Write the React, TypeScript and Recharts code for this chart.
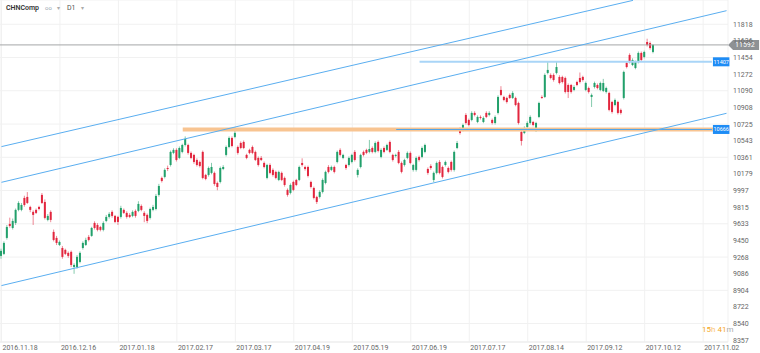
import { Bar, CartesianGrid, ComposedChart, ReferenceDot, ReferenceLine, XAxis, YAxis } from 'recharts';

// x-axis labels, one every 20 sessions
const dateLabels = [
  '2016.11.18', '2016.12.16', '2017.01.18', '2017.02.17', '2017.03.17', '2017.04.19', '2017.05.19',
  '2017.06.19', '2017.07.17', '2017.08.14', '2017.09.12', '2017.10.12', '2017.11.02'
];

const yTicks = [
  8357, 8540, 8722, 8904, 9086, 9268, 9450, 9633, 9815, 9997, 10179, 10361, 10543, 10725, 10908,
  11090, 11272, 11454, 11636, 11818
];

// daily candles: [open, high, low, close]
const candles: [number, number, number, number][] = [
  [9281, 9360, 9250, 9336], [9303, 9440, 9290, 9423], [9478, 9620, 9460, 9598], [9631, 9700, 9590, 9609],
  [9587, 9690, 9570, 9664], [9642, 9800, 9620, 9785], [9785, 9880, 9770, 9861], [9785, 9860, 9770, 9839],
  [9916, 9940, 9820, 9839], [9927, 9980, 9850, 9861], [9817, 9830, 9760, 9785], [9763, 9780, 9620, 9730],
  [9785, 9800, 9740, 9752], [9817, 9830, 9780, 9795], [9949, 9970, 9850, 9861], [9872, 9900, 9680, 9697],
  [9675, 9740, 9660, 9719], [9763, 9780, 9650, 9675], [9544, 9570, 9440, 9456], [9478, 9500, 9400, 9423],
  [9401, 9450, 9390, 9434], [9368, 9390, 9250, 9270], [9347, 9360, 9290, 9303], [9314, 9330, 9260, 9281],
  [9325, 9340, 9160, 9182], [9160, 9200, 9085, 9182], [9160, 9290, 9140, 9270], [9215, 9330, 9200, 9314],
  [9368, 9440, 9350, 9423], [9401, 9480, 9390, 9456], [9489, 9510, 9440, 9456], [9500, 9600, 9490, 9587],
  [9642, 9660, 9570, 9587], [9620, 9640, 9550, 9566], [9598, 9610, 9550, 9566], [9566, 9660, 9550, 9642],
  [9664, 9730, 9650, 9708], [9708, 9760, 9690, 9741], [9763, 9780, 9700, 9719], [9719, 9730, 9640, 9653],
  [9708, 9720, 9620, 9653], [9708, 9830, 9690, 9806], [9785, 9800, 9740, 9752], [9752, 9770, 9690, 9708],
  [9730, 9750, 9695, 9708], [9719, 9780, 9705, 9763], [9774, 9790, 9700, 9719], [9774, 9880, 9760, 9850],
  [9828, 9845, 9770, 9785], [9752, 9770, 9650, 9719], [9730, 9745, 9640, 9664], [9697, 9810, 9680, 9795],
  [9785, 9840, 9770, 9817], [9795, 9960, 9780, 9938], [9949, 10070, 9930, 10047], [10135, 10150, 10085, 10102],
  [10146, 10240, 10130, 10223], [10244, 10270, 10210, 10233],
  [10277, 10435, 10260, 10420], [10409, 10460, 10395, 10442], [10442, 10460, 10315, 10332], [10354, 10480, 10340, 10463],
  [10420, 10510, 10405, 10496], [10496, 10590, 10480, 10562], [10496, 10510, 10390, 10409], [10409, 10425, 10340, 10354],
  [10387, 10400, 10290, 10310], [10332, 10350, 10260, 10277], [10310, 10325, 10250, 10266], [10420, 10435, 10120, 10135],
  [10168, 10180, 10110, 10124], [10168, 10260, 10150, 10244], [10190, 10300, 10175, 10255], [10190, 10205, 10050, 10069],
  [10080, 10095, 10000, 10036], [10091, 10260, 10075, 10244], [10233, 10275, 10220, 10255], [10387, 10490, 10370, 10474],
  [10474, 10590, 10460, 10573], [10573, 10590, 10470, 10485], [10584, 10690, 10570, 10628], [10474, 10490, 10390, 10409],
  [10518, 10535, 10450, 10463], [10529, 10545, 10450, 10463], [10387, 10400, 10340, 10354], [10442, 10455, 10395, 10409],
  [10474, 10490, 10395, 10409], [10420, 10435, 10320, 10332], [10354, 10370, 10260, 10277], [10354, 10375, 10320, 10332],
  [10299, 10315, 10240, 10255], [10135, 10290, 10120, 10277], [10277, 10295, 10175, 10190], [10223, 10240, 10150, 10168],
  [10201, 10215, 10120, 10135], [10113, 10215, 10100, 10201], [10190, 10205, 10100, 10113], [10135, 10150, 10040, 10058],
  [10004, 10020, 9930, 9949], [9971, 10075, 9955, 10058], [10091, 10105, 9990, 10004], [10113, 10125, 10045, 10058],
  [10113, 10270, 10100, 10255], [10299, 10350, 10260, 10277], [10255, 10270, 10215, 10233], [10255, 10270, 10140, 10157],
  [10091, 10105, 10020, 10036], [10025, 10040, 9900, 9916], [9927, 9940, 9850, 9872], [9927, 10000, 9910, 9982],
  [9982, 10130, 9965, 10113], [10080, 10215, 10065, 10201], [10255, 10275, 10185, 10201], [10223, 10270, 10210, 10255],
  [10255, 10270, 10185, 10201], [10310, 10435, 10295, 10420],
  [10442, 10460, 10370, 10387], [10354, 10400, 10340, 10387], [10277, 10290, 10225, 10244], [10277, 10370, 10260, 10354],
  [10310, 10400, 10295, 10387], [10420, 10440, 10315, 10332], [10168, 10240, 10140, 10223], [10255, 10400, 10240, 10387],
  [10420, 10435, 10370, 10387], [10442, 10455, 10395, 10409], [10420, 10551, 10405, 10452], [10463, 10480, 10405, 10420],
  [10420, 10535, 10405, 10518], [10529, 10545, 10415, 10431], [10365, 10460, 10350, 10442], [10463, 10480, 10405, 10420],
  [10442, 10510, 10430, 10496], [10529, 10545, 10405, 10420], [10387, 10400, 10315, 10332], [10376, 10400, 10360, 10387],
  [10420, 10440, 10285, 10299], [10299, 10315, 10185, 10201], [10277, 10345, 10260, 10332], [10354, 10425, 10340, 10409],
  [10409, 10425, 10285, 10299], [10223, 10290, 10205, 10277], [10223, 10370, 10205, 10354], [10365, 10380, 10315, 10332],
  [10365, 10480, 10350, 10463], [10420, 10510, 10405, 10496], [10233, 10250, 10170, 10190], [10266, 10285, 10225, 10244],
  [10113, 10205, 10090, 10190], [10190, 10315, 10175, 10299], [10310, 10330, 10175, 10190], [10255, 10270, 10130, 10146],
  [10277, 10325, 10260, 10310], [10244, 10260, 10185, 10201], [10310, 10325, 10205, 10223], [10223, 10435, 10205, 10420],
  [10463, 10540, 10450, 10518], [10671, 10690, 10610, 10628], [10661, 10730, 10645, 10715], [10825, 10845, 10720, 10737],
  [10770, 10785, 10700, 10715], [10770, 10865, 10755, 10847], [10847, 10865, 10810, 10825], [10748, 10820, 10735, 10803],
  [10803, 10820, 10775, 10792], [10748, 10810, 10735, 10792], [10847, 10865, 10790, 10803], [10825, 10865, 10810, 10847],
  [10770, 10785, 10720, 10737], [10737, 10820, 10720, 10803], [10847, 11040, 10830, 11022], [11099, 11140, 11030, 11044],
  [11022, 11035, 10975, 10989], [11011, 11025, 10950, 10967],
  [11044, 11060, 11000, 11011], [11011, 11085, 11000, 11066], [11011, 11025, 10920, 10934], [10956, 10970, 10720, 10737],
  [10639, 10650, 10490, 10540], [10628, 10700, 10615, 10682], [10693, 10755, 10680, 10737], [10737, 10820, 10720, 10803],
  [10748, 10760, 10700, 10715], [10671, 10750, 10640, 10737], [10803, 10970, 10790, 10956], [11022, 11040, 11000, 11011],
  [11022, 11280, 11010, 11263], [11285, 11405, 11270, 11318], [11263, 11280, 11215, 11230], [11263, 11280, 11190, 11208],
  [11285, 11405, 11270, 11350], [11241, 11260, 11160, 11175], [11241, 11255, 11170, 11186], [11230, 11245, 11060, 11077],
  [11153, 11170, 11010, 11077], [11153, 11165, 11060, 11077], [11099, 11150, 11085, 11131], [11186, 11200, 11140, 11153],
  [11230, 11290, 11170, 11186], [11241, 11255, 11190, 11208], [11099, 11190, 11085, 11175], [11120, 11135, 11060, 11077],
  [11022, 11060, 10912, 11044], [11131, 11190, 11115, 11175], [11153, 11170, 11105, 11120], [11099, 11190, 11085, 11175],
  [11088, 11220, 11075, 11175], [11077, 11135, 11060, 11120], [11066, 11080, 10865, 10880], [10967, 10980, 10840, 10858],
  [10934, 11005, 10920, 10989], [10967, 10980, 10830, 10847], [10880, 10895, 10830, 10847], [11011, 11310, 10995, 11296],
  [11394, 11410, 11335, 11350], [11482, 11500, 11390, 11405], [11372, 11445, 11360, 11427], [11339, 11420, 11325, 11405],
  [11405, 11520, 11390, 11504], [11504, 11520, 11410, 11427], [11460, 11530, 11445, 11515], [11624, 11660, 11575, 11591],
  [11613, 11630, 11540, 11558], [11515, 11600, 11500, 11592]
];

const SLOTS = 249; // candles plus empty future sessions on the right

// channel lines: [fromIndex, fromValue, toIndex, toValue]
const channels: [number, number, number, number][] = [
  [0, 10478, 216, 12080],
  [0, 10087, 248, 11967],
  [0, 8956, 248, 10843]
];

const lastPrice = 11592;
const resistance = 11407;
const support = 10666;

const GREEN = '#22a06b';
const RED = '#e2263e';

const rows = Array.from({ length: SLOTS }, (_, i) => {
  const c = candles[i];
  return c ? { i, o: c[0], h: c[1], l: c[2], c: c[3] } : { i };
});

const Candle = (props: any) => {
  const { x, y, width, height, payload } = props;
  if (payload == null || payload.o == null) return null;
  const top = Math.min(y, y + height);
  const span = Math.abs(height);
  const range = payload.h - payload.l || 1;
  const py = (v: number) => top + ((payload.h - v) / range) * span;
  const color = payload.c >= payload.o ? GREEN : RED;
  const cx = x + width / 2;
  const bTop = py(Math.max(payload.o, payload.c));
  const bBot = py(Math.min(payload.o, payload.c));
  return (
    <g>
      <line x1={cx} x2={cx} y1={top} y2={top + span} stroke={color} strokeOpacity={0.55} strokeWidth={1} />
      <rect x={x} y={bTop} width={width} height={Math.max(1, bBot - bTop)} fill={color} />
    </g>
  );
};

const XTick = ({ x, payload }: any) => (
  <text x={x + 1} y={350} fontSize={7} fill='#666' textAnchor='start'>
    {dateLabels[payload.value / 20]}
  </text>
);

const BlueTag = (text: string) => (props: any) => (
  <g>
    <rect x={props.cx + 1} y={props.cy - 4.5} width={16.5} height={9} fill='#1e8cf5' />
    <text x={props.cx + 9.3} y={props.cy + 2} fontSize={5.5} fill='#fff' textAnchor='middle'>
      {text}
    </text>
  </g>
);

const PriceTag = (props: any) => {
  const x = props.cx + 1.5;
  const y = props.cy;
  return (
    <g>
      <polygon
        points={`${x},${y} ${x + 5},${y - 5} ${x + 31},${y - 5} ${x + 31},${y + 5} ${x + 5},${y + 5}`}
        fill='#8e9194'
      />
      <text x={x + 7} y={y + 2.5} fontSize={7} fill='#fff'>
        {lastPrice}
      </text>
    </g>
  );
};

export default function App() {
  return (
    <div
      style={{
        position: 'absolute',
        left: 0,
        top: 0,
        width: 760,
        height: 353,
        background: '#fff',
        fontFamily: 'Roboto, sans-serif'
      }}
    >
      <ComposedChart width={760} height={353} data={rows} margin={{ top: 0, right: 0, bottom: 0, left: 0 }}>
        <CartesianGrid stroke='#f1f1f1' ticks={yTicks} />
        <XAxis
          dataKey='i'
          type='category'
          ticks={dateLabels.map((_, k) => k * 20)}
          interval={0}
          height={11}
          tickLine={false}
          axisLine={{ stroke: '#ececec' }}
          tick={<XTick />}
        />
        <YAxis
          orientation='right'
          type='number'
          domain={[8338, 12084]}
          allowDataOverflow
          ticks={yTicks}
          width={32}
          tickSize={0}
          tickMargin={5}
          tickLine={false}
          axisLine={false}
          tick={{ fontSize: 7, fill: '#666' }}
        />
        <ReferenceLine
          segment={[{ x: 62, y: support }, { x: 248, y: support }]}
          stroke='#f8c491'
          strokeWidth={4}
        />
        <ReferenceLine
          segment={[{ x: 135, y: support }, { x: 243, y: support }]}
          stroke='#4da3ea'
          strokeWidth={1}
        />
        <ReferenceLine
          segment={[{ x: 143, y: resistance }, { x: 243, y: resistance }]}
          stroke='#a9d5f7'
          strokeWidth={2}
        />
        <ReferenceLine y={lastPrice} stroke='#a4a6a8' strokeWidth={1} />
        {channels.map((c, k) => (
          <ReferenceLine
            key={k}
            segment={[{ x: c[0], y: c[1] }, { x: c[2], y: c[3] }]}
            stroke='#5aaef0'
            strokeWidth={1}
          />
        ))}
        <Bar
          dataKey={(d: any) => (d.o == null ? null : [d.l, d.h])}
          barSize={2}
          shape={<Candle />}
          isAnimationActive={false}
        />
        <ReferenceDot x={243} y={resistance} r={0} ifOverflow='visible' shape={BlueTag(String(resistance))} />
        <ReferenceDot x={243} y={support} r={0} ifOverflow='visible' shape={BlueTag(String(support))} />
        <ReferenceDot x={248} y={lastPrice} r={0} ifOverflow='visible' shape={PriceTag} />
      </ComposedChart>
      <div style={{ position: 'absolute', left: 6, top: 4, fontSize: 7, color: '#333', whiteSpace: 'nowrap' }}>
        <span style={{ fontWeight: 600 }}>CHNComp</span>
        <span style={{ marginLeft: 6, color: '#9aa6b2', fontSize: 6 }}>oo</span>
        <span style={{ marginLeft: 5, color: '#aaa', fontSize: 6 }}>▾</span>
        <span style={{ marginLeft: 7, color: '#555' }}>D1</span>
        <span style={{ marginLeft: 6, color: '#aaa', fontSize: 6 }}>▾</span>
      </div>
      <div style={{ position: 'absolute', left: 702, top: 325, fontSize: 8, whiteSpace: 'nowrap' }}>
        <span style={{ color: '#f5a623' }}>15</span>
        <span style={{ color: '#f8c77a' }}>h </span>
        <span style={{ color: '#f5a623' }}>41</span>
        <span style={{ color: '#aaa' }}>m</span>
      </div>
    </div>
  );
}
